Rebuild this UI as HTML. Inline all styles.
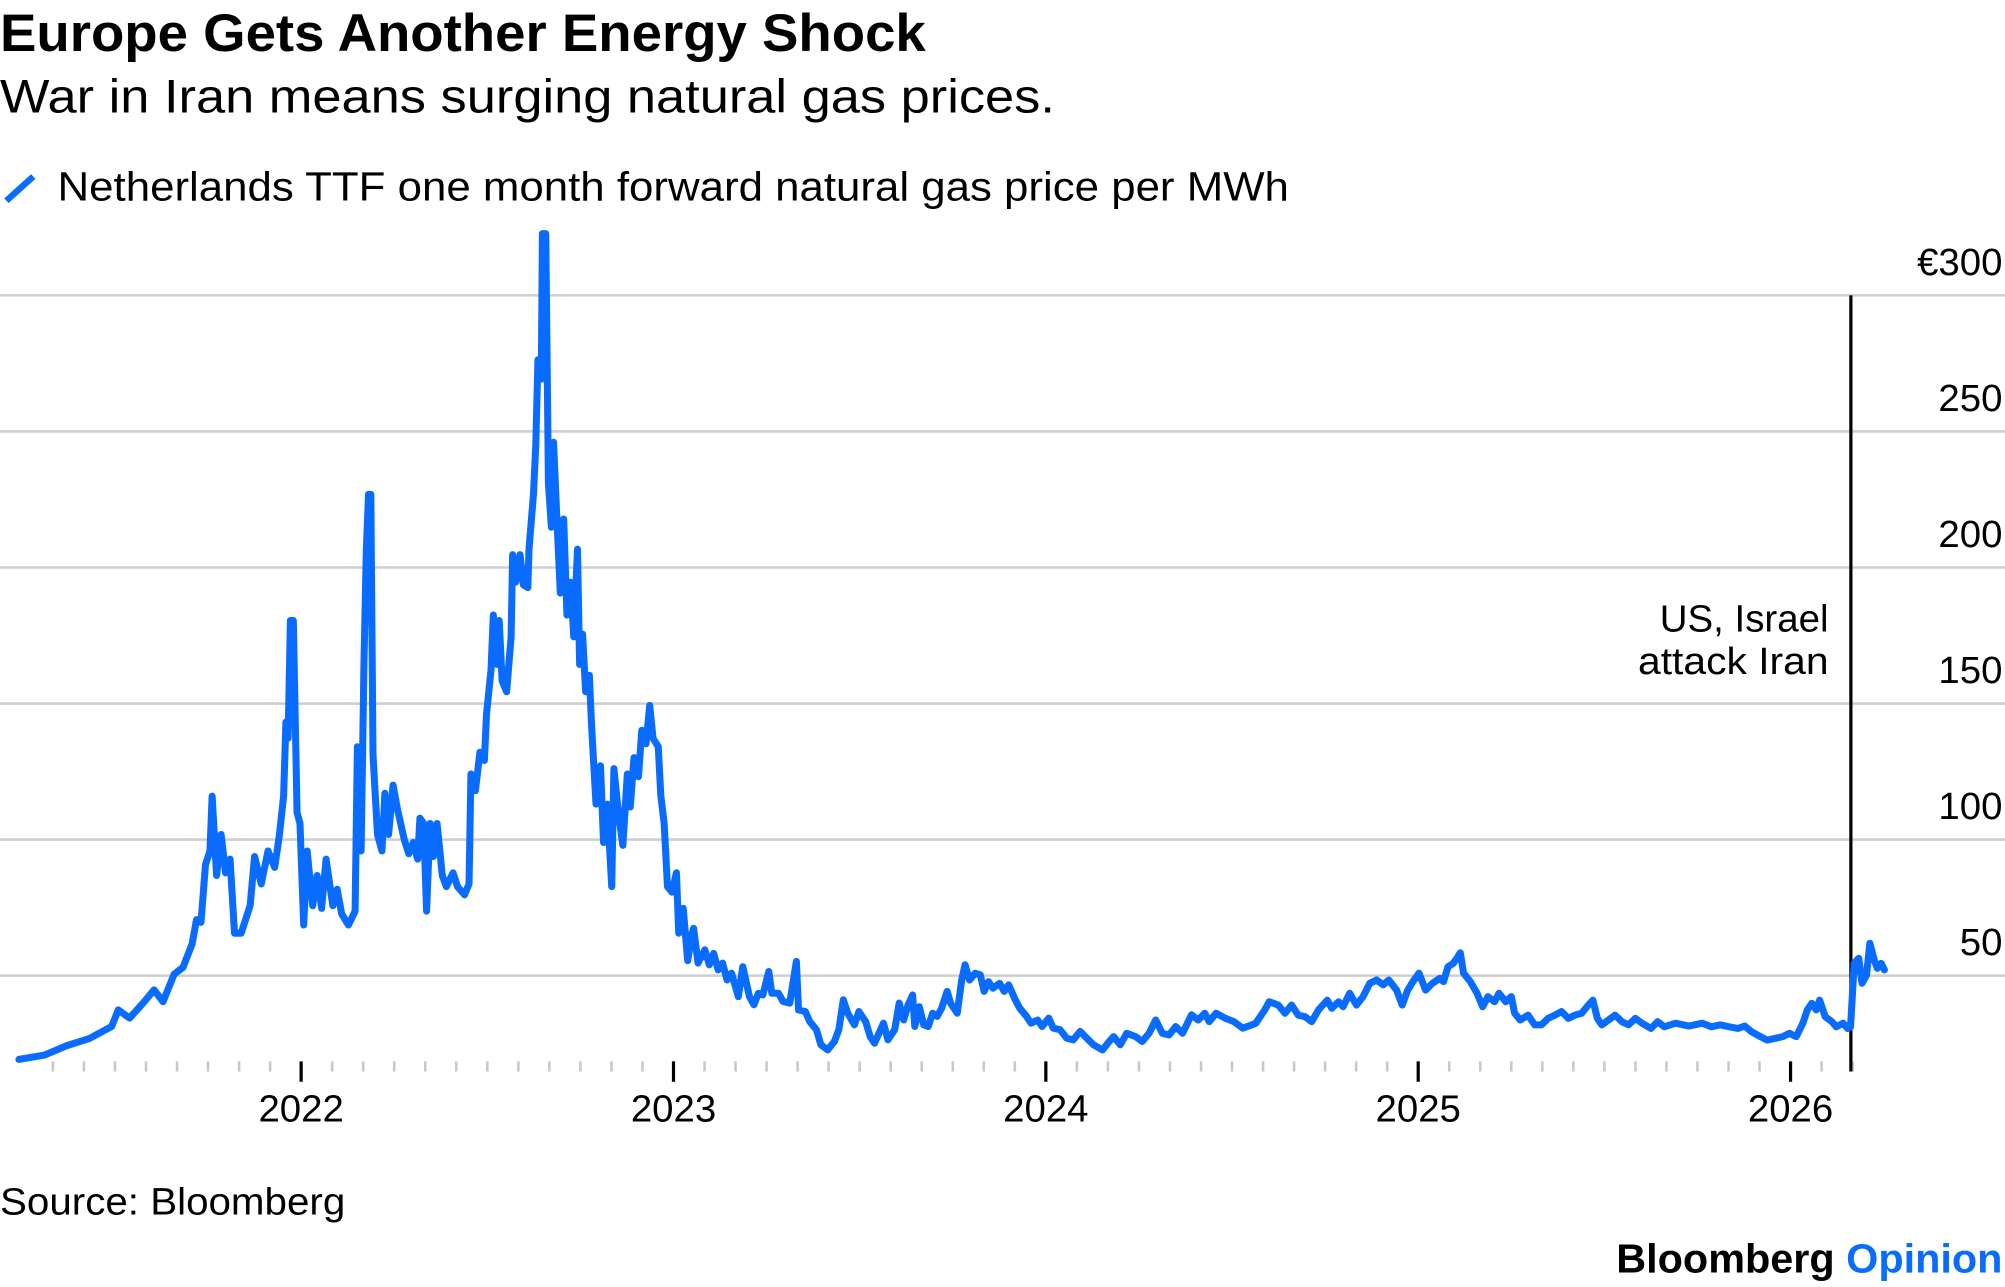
<!DOCTYPE html>
<html><head><meta charset="utf-8"><style>
html,body{margin:0;padding:0;background:#fff}
svg{display:block}
text{font-family:"Liberation Sans",sans-serif}
</style></head><body>
<svg id="chart" width="2005" height="1287" viewBox="0 0 1568 1006.5" preserveAspectRatio="none" xmlns="http://www.w3.org/2000/svg">
<text x="0" y="40" font-size="41" font-weight="bold" textLength="724" lengthAdjust="spacingAndGlyphs">Europe Gets Another Energy Shock</text>
<text x="0" y="88" font-size="37" textLength="825" lengthAdjust="spacingAndGlyphs">War in Iran means surging natural gas prices.</text>
<line x1="5" y1="157" x2="26" y2="138" stroke="#0a6cff" stroke-width="5"/>
<text x="45" y="157" font-size="32" textLength="963" lengthAdjust="spacingAndGlyphs">Netherlands TTF one month forward natural gas price per MWh</text>
<g id="grid"></g>
<g id="ticks"></g>
<line id="evline" stroke="#000" stroke-width="2.5"/>
<text x="1430" y="494" font-size="30" text-anchor="end" textLength="132" lengthAdjust="spacingAndGlyphs">US, Israel</text>
<text x="1430" y="527" font-size="30" text-anchor="end" textLength="149" lengthAdjust="spacingAndGlyphs">attack Iran</text>
<path id="series" fill="none" stroke="#0a6cff" stroke-width="5.5" stroke-linejoin="round" stroke-linecap="round"/>
<text x="0" y="950" font-size="30" textLength="270" lengthAdjust="spacingAndGlyphs">Source: Bloomberg</text>
<text x="1264" y="995" font-size="32" font-weight="bold" textLength="302" lengthAdjust="spacingAndGlyphs"><tspan fill="#000">Bloomberg </tspan><tspan fill="#0a6cff">Opinion</tspan></text>
</svg>
<script>
const yTicks=[0,50,100,150,200,250,300];
const yTickLabels=["","50","100","150","200","250","€300"];
const yearTicks=[2022,2023,2024,2025,2026];
const eventDate=2026.162;
const dates=[2021.242,2021.311,2021.371,2021.431,2021.491,2021.509,2021.539,2021.575,2021.605,2021.629,2021.659,2021.683,2021.707,2021.719,2021.731,2021.743,2021.755,2021.761,2021.773,2021.785,2021.797,2021.809,2021.821,2021.839,2021.863,2021.875,2021.893,2021.911,2021.929,2021.941,2021.953,2021.959,2021.965,2021.971,2021.979,2021.989,2021.997,2022.007,2022.016,2022.031,2022.043,2022.055,2022.067,2022.085,2022.097,2022.109,2022.127,2022.145,2022.151,2022.161,2022.169,2022.175,2022.181,2022.187,2022.193,2022.205,2022.217,2022.225,2022.235,2022.247,2022.259,2022.277,2022.289,2022.301,2022.313,2022.319,2022.329,2022.337,2022.346,2022.355,2022.365,2022.379,2022.390,2022.408,2022.420,2022.439,2022.451,2022.456,2022.468,2022.480,2022.492,2022.498,2022.510,2022.516,2022.525,2022.532,2022.540,2022.552,2022.564,2022.568,2022.576,2022.588,2022.597,2022.609,2022.612,2022.624,2022.630,2022.636,2022.645,2022.648,2022.657,2022.664,2022.672,2022.678,2022.688,2022.696,2022.705,2022.714,2022.724,2022.732,2022.742,2022.748,2022.756,2022.764,2022.774,2022.780,2022.792,2022.804,2022.812,2022.822,2022.834,2022.840,2022.852,2022.864,2022.876,2022.884,2022.894,2022.906,2022.915,2022.926,2022.936,2022.945,2022.959,2022.966,2022.975,2022.984,2022.996,2023.008,2023.014,2023.026,2023.038,2023.050,2023.054,2023.066,2023.084,2023.096,2023.108,2023.120,2023.132,2023.144,2023.156,2023.174,2023.186,2023.204,2023.216,2023.228,2023.240,2023.256,2023.264,2023.282,2023.294,2023.312,2023.330,2023.336,2023.354,2023.366,2023.384,2023.396,2023.414,2023.432,2023.444,2023.456,2023.468,2023.486,2023.498,2023.516,2023.528,2023.540,2023.552,2023.564,2023.576,2023.594,2023.606,2023.618,2023.630,2023.642,2023.648,2023.660,2023.672,2023.684,2023.696,2023.708,2023.720,2023.735,2023.744,2023.762,2023.774,2023.783,2023.795,2023.810,2023.824,2023.834,2023.846,2023.858,2023.876,2023.888,2023.900,2023.918,2023.930,2023.948,2023.960,2023.978,2023.990,2024.008,2024.020,2024.038,2024.056,2024.074,2024.092,2024.110,2024.128,2024.152,2024.170,2024.182,2024.200,2024.217,2024.241,2024.259,2024.277,2024.295,2024.313,2024.331,2024.349,2024.367,2024.391,2024.409,2024.427,2024.439,2024.457,2024.481,2024.505,2024.529,2024.553,2024.564,2024.588,2024.600,2024.624,2024.642,2024.660,2024.678,2024.696,2024.714,2024.732,2024.756,2024.768,2024.786,2024.798,2024.816,2024.834,2024.852,2024.870,2024.888,2024.906,2024.921,2024.942,2024.957,2024.972,2024.986,2025.002,2025.020,2025.038,2025.058,2025.068,2025.080,2025.094,2025.104,2025.113,2025.122,2025.140,2025.158,2025.173,2025.187,2025.205,2025.217,2025.235,2025.250,2025.259,2025.274,2025.295,2025.313,2025.331,2025.349,2025.367,2025.385,2025.403,2025.421,2025.439,2025.457,2025.469,2025.481,2025.493,2025.511,2025.529,2025.547,2025.565,2025.583,2025.601,2025.625,2025.643,2025.661,2025.691,2025.727,2025.763,2025.787,2025.811,2025.835,2025.859,2025.877,2025.895,2025.919,2025.937,2025.961,2025.979,2025.997,2026.015,2026.033,2026.045,2026.057,2026.069,2026.078,2026.093,2026.111,2026.123,2026.141,2026.153,2026.161,2026.171,2026.183,2026.192,2026.204,2026.213,2026.225,2026.233,2026.243,2026.252];
const prices=[19.2,20.8,24.3,26.9,31.3,37.4,34.4,39.8,44.8,40.4,50.5,53.1,61.6,70.6,69.6,90.8,95.8,116.0,86.8,101.9,87.8,92.8,65.6,65.6,75.7,93.8,83.7,95.8,89.8,100.9,116.0,143.2,137.2,180.5,180.5,110.0,105.9,68.6,95.8,75.7,86.8,74.7,92.8,75.7,81.7,72.7,68.6,73.7,134.1,95.8,166.4,206.7,226.9,226.9,131.1,101.9,95.8,117.0,101.9,120.0,111.0,99.9,94.8,98.9,92.8,107.9,105.9,73.7,105.9,93.8,105.9,86.8,82.7,87.8,82.7,79.7,83.7,124.1,118.0,132.1,129.1,146.2,162.4,182.5,164.4,180.5,158.3,154.3,174.5,204.7,194.6,204.7,193.6,192.6,206.7,226.9,245.0,276.3,269.2,322.7,322.7,230.9,214.8,246.0,214.8,190.6,217.8,182.5,194.6,174.5,206.7,164.4,175.5,154.3,160.4,142.2,113.0,127.1,98.9,113.0,82.7,126.1,110.0,97.9,124.1,112.0,130.1,123.1,140.2,135.2,149.3,137.2,134.1,116.0,105.9,82.7,80.7,87.8,65.6,74.7,55.5,65.6,67.4,54.6,59.5,54.0,58.2,52.1,54.6,48.4,50.9,42.3,53.3,42.3,39.3,43.5,42.9,51.5,43.5,43.5,40.5,39.9,55.2,37.4,36.8,33.1,30.1,24.6,22.7,25.8,30.1,41.1,36.2,31.9,36.8,33.1,27.6,25.2,28.8,32.5,26.4,30.1,39.9,33.7,39.3,42.9,31.3,38.6,31.9,31.3,36.2,35.0,38.0,44.2,39.9,36.2,48.4,54.0,48.4,50.9,50.3,44.2,47.8,45.4,47.2,44.2,46.6,41.1,38.0,35.0,32.5,33.7,31.3,34.4,30.7,30.1,27.0,26.4,29.5,27.0,24.6,22.7,25.8,27.6,24.6,28.8,27.6,25.8,28.8,33.7,28.8,28.2,31.3,28.8,35.6,33.7,36.2,33.1,36.2,34.4,33.1,30.7,31.9,32.5,37.4,40.4,39.2,36.2,39.2,35.5,34.9,33.1,37.4,41.0,38.0,40.4,38.6,43.5,39.2,42.3,47.2,48.4,46.6,48.4,44.7,39.2,44.7,47.8,50.9,44.7,47.2,49.0,47.8,53.3,54.5,56.4,58.4,50.9,47.8,43.5,38.6,42.3,40.4,43.5,40.4,42.3,36.2,33.7,35.5,31.9,31.9,34.3,35.5,36.8,34.3,35.5,36.2,39.2,41.0,34.3,31.9,33.7,35.5,33.1,31.9,34.3,32.5,30.6,33.1,31.2,32.5,31.5,32.5,31.2,31.9,31.2,30.6,31.5,29.4,27.6,26.3,27.0,27.6,28.8,27.6,32.5,37.4,39.8,37.4,41.0,34.9,33.1,31.2,32.5,30.6,31.2,54.5,56.4,47.2,50.2,61.9,55.7,52.7,54.5,52.1];

const NS="http://www.w3.org/2000/svg";
function xScale(t){return 235.5+(t-2022)*291.2;}
function yScale(v){return 869.4-v*2.128;}
const grid=document.getElementById('grid');
yTicks.forEach((v,i)=>{
  if(v===0)return;
  const l=document.createElementNS(NS,'line');
  
  
  l.setAttribute('x1',0);l.setAttribute('x2',1568);
  l.setAttribute('y1',yScale(v));l.setAttribute('y2',yScale(v));
  l.setAttribute('stroke','#cfcfcf');l.setAttribute('stroke-width','2');
  grid.appendChild(l);
  const t=document.createElementNS(NS,'text');
  
  
  t.setAttribute('x',1566);t.setAttribute('y',yScale(v)-16);
  t.setAttribute('text-anchor','end');t.setAttribute('font-size','30');
  t.textContent=yTickLabels[i];
  grid.appendChild(t);
});
const ticks=document.getElementById('ticks');
for(let m=4;m<=62;m++){
  const t=2021+m/12;
  const isYear=(m%12===0);
  const l=document.createElementNS(NS,'line');
  
  
  l.setAttribute('x1',xScale(t));l.setAttribute('x2',xScale(t));
  l.setAttribute('y1',830);l.setAttribute('y2',isYear?846:838);
  l.setAttribute('stroke',isYear?'#000':'#c8c8c8');l.setAttribute('stroke-width',isYear?'2.5':'2');
  ticks.appendChild(l);
}
yearTicks.forEach(y=>{
  const t=document.createElementNS(NS,'text');
  
  
  t.setAttribute('x',xScale(y));t.setAttribute('y',877);
  t.setAttribute('text-anchor','middle');t.setAttribute('font-size','30');
  t.textContent=String(y);
  ticks.appendChild(t);
});
const ev=document.getElementById('evline');
ev.setAttribute('x1',xScale(eventDate));ev.setAttribute('x2',xScale(eventDate));
ev.setAttribute('y1',yScale(300));ev.setAttribute('y2',838);
let d='';
dates.forEach((t,i)=>{d+=(i?'L':'M')+xScale(t).toFixed(1)+','+yScale(prices[i]).toFixed(1);});
document.getElementById('series').setAttribute('d',d);
</script>
</body></html>
